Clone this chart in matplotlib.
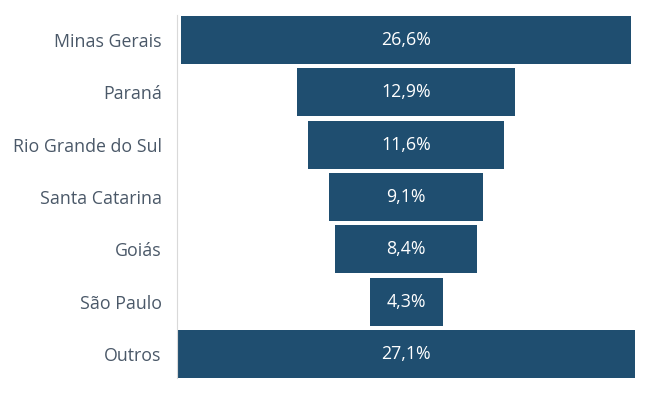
import matplotlib.pyplot as plt

estados = ['Minas Gerais', 'Paraná', 'Rio Grande do Sul', 'Santa Catarina',
           'Goiás', 'São Paulo', 'Outros']
valores = [26.6, 12.9, 11.6, 9.1, 8.4, 4.3, 27.1]

plt.rcParams['font.family'] = ['Open Sans', 'DejaVu Sans']

fig = plt.figure(figsize=(6.5, 3.96), dpi=100)
ax = fig.add_axes([177 / 650, 1 - 378 / 396, 1 - 177 / 650, (378 - 15) / 396])

cor = '#1f4e70'
pos = list(range(len(estados)))
esq = [-v / 2 for v in valores]
ax.barh(pos, valores, left=esq, height=0.92, color=cor)

for p, v in zip(pos, valores):
    ax.text(0, p, f'{v:.1f}%'.replace('.', ','), ha='center', va='center',
            color='white', fontsize=12.8)

ax.set_yticks(pos)
ax.set_yticklabels(estados, fontsize=12.8, color='#4a5868')
ax.tick_params(axis='y', length=0, pad=11)
ax.set_xticks([])
ax.set_xlim(-13.55, 14.42)
ax.set_ylim(6.46, -0.48)

for s in ['top', 'right', 'bottom']:
    ax.spines[s].set_visible(False)
ax.spines['left'].set_color('#d9d9d9')

fig.savefig('out.png', dpi=100)
